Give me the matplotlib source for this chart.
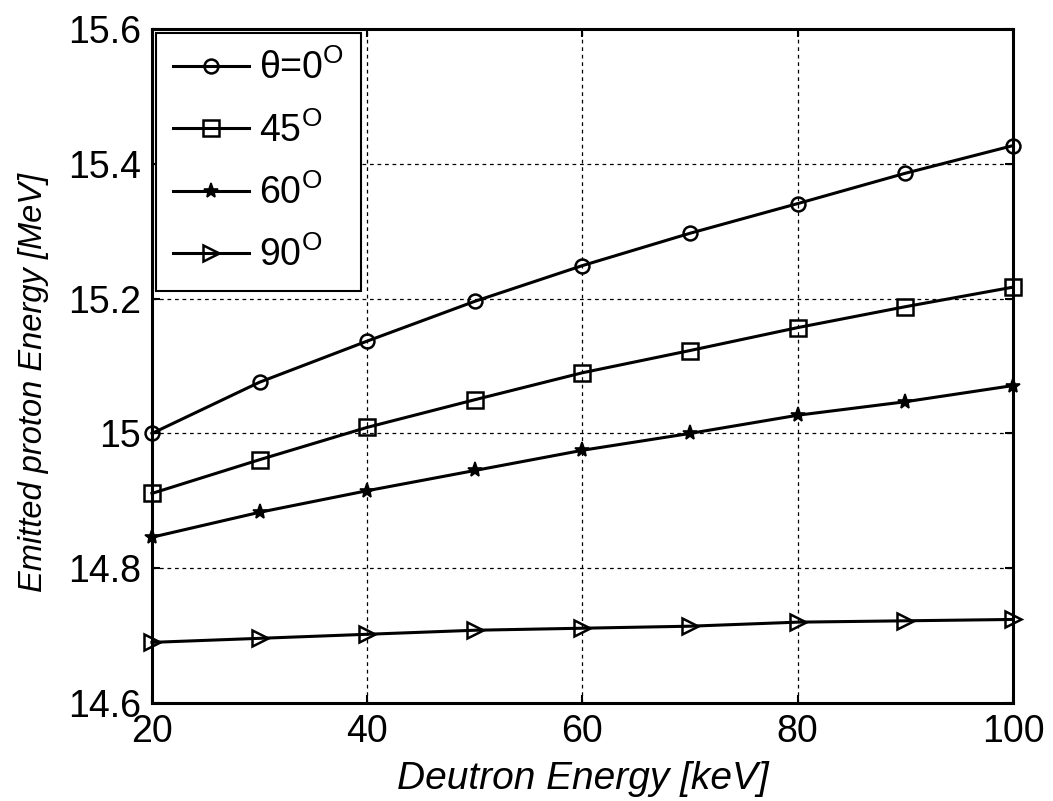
import matplotlib.pyplot as plt
from matplotlib.ticker import FormatStrFormatter

plt.rcParams['font.family'] = ['Liberation Sans', 'DejaVu Sans']
plt.rcParams['mathtext.fontset'] = 'custom'
plt.rcParams['mathtext.rm'] = 'Liberation Sans'

deuteron_kev = [20, 30, 40, 50, 60, 70, 80, 90, 100]
e_0deg = [15.000, 15.076, 15.137, 15.196, 15.249, 15.297, 15.341, 15.386, 15.427]
e_45deg = [14.911, 14.961, 15.009, 15.050, 15.090, 15.123, 15.157, 15.188, 15.217]
e_60deg = [14.846, 14.883, 14.915, 14.945, 14.975, 15.000, 15.027, 15.047, 15.071]
e_90deg = [14.690, 14.696, 14.702, 14.708, 14.711, 14.714, 14.720, 14.722, 14.724]

labels = ['θ=0$^{\\mathrm{O}}$', '45$^{\\mathrm{O}}$', '60$^{\\mathrm{O}}$', '90$^{\\mathrm{O}}$']

fig = plt.figure(figsize=(10.53, 8.01), dpi=100)
ax = fig.add_axes([0.1443, 0.1223, 0.8177, 0.8415])

style = dict(color='k', lw=2.2, clip_on=False, zorder=3)
ax.plot(deuteron_kev, e_0deg, '-o', ms=10, mfc='none', mew=1.8, label=labels[0], **style)
ax.plot(deuteron_kev, e_45deg, '-s', ms=11, mfc='none', mew=1.8, label=labels[1], **style)
ax.plot(deuteron_kev, e_60deg, '-*', ms=11, mfc='k', mew=1.2, label=labels[2], **style)
ax.plot(deuteron_kev, e_90deg, '->', ms=11, mfc='none', mew=1.8, label=labels[3], **style)

ax.set_xlim(20, 100)
ax.set_ylim(14.6, 15.6)
ax.set_xticks([20, 40, 60, 80, 100])
ax.set_yticks([14.6, 14.8, 15.0, 15.2, 15.4, 15.6])
ax.yaxis.set_major_formatter(FormatStrFormatter('%g'))

ax.grid(True, color='k', ls=(0, (3, 3)), lw=0.9)
ax.tick_params(direction='in', length=6, width=1.5, top=True, right=True,
               labelsize=27, pad=8)
for s in ax.spines.values():
    s.set_linewidth(2.2)

ax.set_xlabel('Deutron Energy [keV]', fontsize=28, style='italic', labelpad=8)
ax.set_ylabel('Emitted proton Energy [MeV]', fontsize=23.5, style='italic')
ax.yaxis.set_label_coords(-0.119, 0.476)

leg = ax.legend(loc='upper left', bbox_to_anchor=(0, 1), borderaxespad=0.1,
                fontsize=27, handlelength=2.05, handletextpad=0.25,
                labelspacing=0.66, borderpad=0.45, fancybox=False, framealpha=1)
leg.get_frame().set_edgecolor('k')
leg.get_frame().set_linewidth(1.5)
leg.set_zorder(5)

fig.savefig('out.png', dpi=100)
